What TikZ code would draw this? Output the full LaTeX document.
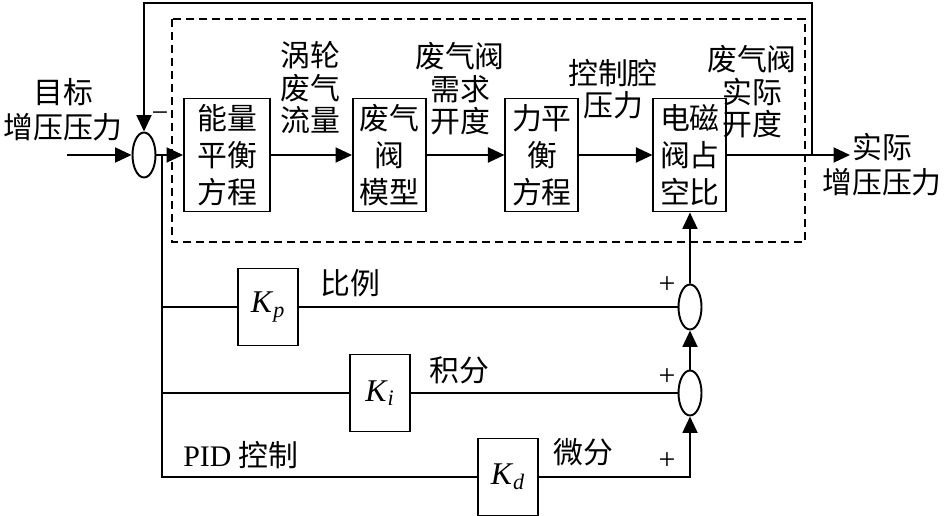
\documentclass[tikz,border=0pt]{standalone}
\usepackage{fontspec}
\setmainfont{Liberation Serif}
\newfontfamily\cjk{Noto Sans CJK SC}
\usetikzlibrary{shapes,arrows,positioning,calc,arrows.meta}

\begin{document}
\begin{tikzpicture}[x=0.02cm, y=-0.02cm, line width=1.1pt,
    >={Triangle[length=0.33cm, width=0.3cm]},
    block/.style={rectangle, draw, minimum width=1.46cm, minimum height=2.26cm, inner sep=0pt, align=center, font=\cjk\fontsize{17}{21}\selectfont},
    gain/.style={rectangle, draw, minimum width=1.2cm, minimum height=1.54cm, inner sep=0pt, font=\fontsize{18}{20}\selectfont},
    sum/.style={ellipse, draw, minimum width=0.46cm, minimum height=0.9cm, inner sep=0pt},
    lbl/.style={align=center, inner sep=0pt, font=\cjk\fontsize{17}{18.5}\selectfont},
    sign/.style={inner sep=0pt, font=\fontsize{17}{18}\selectfont}]
    \useasboundingbox (0,0) rectangle (945,516);

    % forward path
    \node (sumA) [sum] at (144,155) {};
    \node (energy) [block, minimum width=1.72cm] at (227,155) {能量\\平衡\\方程};
    \node (valve) [block, right of=energy, node distance=3.25cm] {废气\\阀\\模型};
    \node (force) [block, right of=valve, node distance=3.05cm] {力平\\衡\\方程};
    \node (solenoid) [block, right of=force, node distance=2.96cm] {电磁\\阀占\\空比};
    \draw [dashed, dash pattern=on 0.16cm off 0.1cm] (172,19) rectangle (805,242);

    % PID part
    \node (kp) [gain] at (268,307) {\textit{K}\textsubscript{\textit{p}}};
    \node (ki) [gain] at (380,393) {\textit{K}\textsubscript{\textit{i}}};
    \node (kd) [gain] at (508,477) {\textit{K}\textsubscript{\textit{d}}};
    \node (sumB) [sum] at (690,307) {};
    \node (sumC) [sum] at (690,393) {};

    \coordinate (in) at (67,155);
    \coordinate (out) at (850,155);
    \coordinate (fb) at (812,155);
    \coordinate (fbtop) at (812,3);
    \coordinate (branch) at (162,155);
    \coordinate (pidbot) at (162,477);
    \coordinate (corner) at (690,477);

    \draw [->] (in) -- (sumA);
    \draw [->] (sumA) -- (energy);
    \draw [->] (energy) -- (valve);
    \draw [->] (valve) -- (force);
    \draw [->] (force) -- (solenoid);
    \draw [->] (solenoid) -- (out);
    \draw [->] (fb) -- (fbtop) -| (sumA.north);
    \draw (branch) -- (pidbot) -- (kd);
    \draw (branch |- kp) -- (kp);
    \draw (kp) -- (sumB);
    \draw (branch |- ki) -- (ki);
    \draw (ki) -- (sumC);
    \draw [->] (kd) -- (corner) -- (sumC);
    \draw [->] (sumC) -- (sumB);
    \draw [->] (sumB) -- (solenoid);

    % labels
    \node (target) [lbl, font=\cjk\fontsize{17}{20}\selectfont] at (63,110) {目标\\增压压力};
    \node (flow) [lbl] at (310,88) {涡轮\\废气\\流量};
    \node (demand) [lbl] at (460,89) {废气阀\\需求\\开度};
    \node (press) [lbl] at (613,89) {控制腔\\压力};
    \node (actual) [lbl] at (752,92) {废气阀\\实际\\开度};
    \node (output) [lbl, font=\cjk\fontsize{17}{20}\selectfont] at (882,165) {实际\\增压压力};
    \node (plabel) [lbl] at (350,283) {比例};
    \node (ilabel) [lbl] at (459,370) {积分};
    \node (dlabel) [lbl] at (583,452) {微分};
    \node (pid) [lbl, font=\fontsize{17}{18}\selectfont] at (241,455) {PID {\cjk 控制}};
    \node (minusA) [sign] at (160,117) {−};
    \node (plusB) [sign] at (667,285) {+};
    \node (plusC) [sign] at (667,377) {+};
    \node (plusD) [sign] at (667,461) {+};
\end{tikzpicture}
\end{document}
